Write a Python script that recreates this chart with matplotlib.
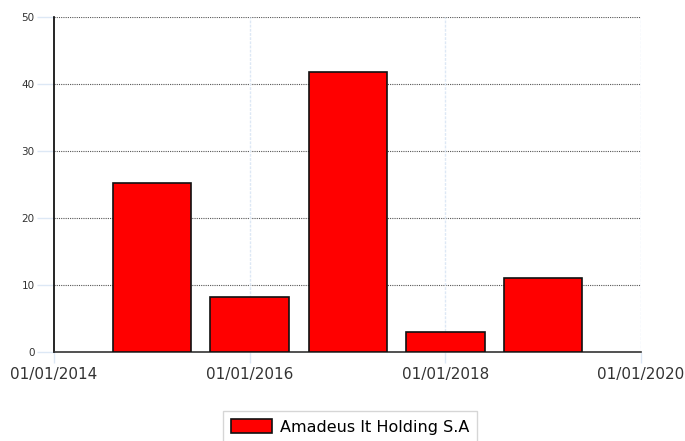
import matplotlib
matplotlib.use("Agg")
import matplotlib.pyplot as plt
import matplotlib.dates as mdates
import datetime as dt

years = [2015, 2016, 2017, 2018, 2019]
values = [25.2, 8.2, 41.8, 3.0, 11.0]
series_name = "Amadeus It Holding S.A"
yticks = [0, 10, 20, 30, 40, 50]
xtick_years = [2014, 2016, 2018, 2020]

plt.rcParams['font.family'] = ['DejaVu Sans']

fig = plt.figure(figsize=(6.85, 4.41), dpi=100)
ax = fig.add_axes([54/685, 1-352/441, (641-54)/685, (352-17)/441])

dates = [dt.date(y, 1, 1) for y in years]
ax.bar(dates, values, width=292, color='#ff0000', edgecolor='#111111', linewidth=1.2,
       label=series_name, zorder=3)

ax.set_xlim(mdates.date2num(dt.date(2014, 1, 1)), mdates.date2num(dt.date(2020, 1, 1)))
ax.set_ylim(0, 50)

ax.set_yticks(yticks)
ax.set_yticklabels([str(v) for v in yticks], fontsize=7.5, color='#333333')
xt = [mdates.date2num(dt.date(y, 1, 1)) for y in xtick_years]
ax.set_xticks(xt)
ax.set_xticklabels([f"01/01/{y}" for y in xtick_years], fontsize=11, color='#333333')

ax.tick_params(axis='y', length=12, color='#dde8f5', width=1, pad=2)
ax.tick_params(axis='x', length=8, color='#dde8f5', width=1, pad=3)

for sp in ['top', 'right']:
    ax.spines[sp].set_visible(False)
ax.spines['left'].set_color('#000000')
ax.spines['bottom'].set_color('#333333')
ax.spines['left'].set_linewidth(1.2)
ax.spines['bottom'].set_linewidth(1.2)

for y in yticks[1:]:
    ax.axhline(y, color='#555555', linestyle=(0, (1, 1)), linewidth=0.8, zorder=1)
for x in xt[1:]:
    ax.axvline(x, color='#dde8f5', linestyle=(0, (2, 1)), linewidth=1, zorder=1)

leg = fig.legend(loc='upper center', bbox_to_anchor=(350/685, 1-403/441), fontsize=11.5,
                 frameon=True, fancybox=False, edgecolor='#cccccc',
                 handlelength=2.6, handleheight=1.0, borderpad=0.5, handletextpad=0.5)
leg.get_frame().set_linewidth(1)

fig.savefig("out.png", dpi=100)
